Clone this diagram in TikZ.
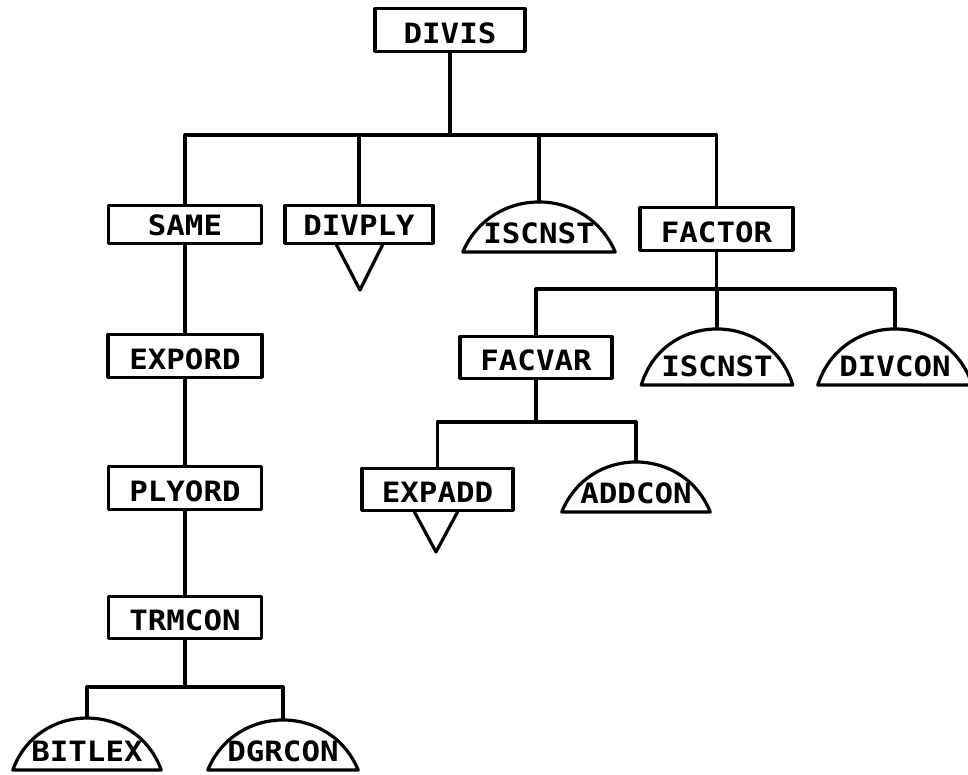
\documentclass[tikz,border=0pt]{standalone}
\usepackage{fontspec}
\newfontfamily\plotfont{DejaVu Sans Mono Bold}[FakeStretch=1.1]
\usetikzlibrary{calc}
\tikzset{
  ln/.style={line width=3.2pt, line cap=round, line join=round},
  nd/.style 2 args={minimum width=#1, text height=#2, text depth=8pt, inner sep=0pt,
     anchor=south, font=\fontsize{28}{30}\selectfont\plotfont},
  box/.style 2 args={nd={#1}{#2}, draw, ln},
  dome/.style 2 args={nd={#1}{#2}}
}
\newcommand\domeline[3]{\draw[ln] (#1.south west) .. controls ($(#1.south west)+(#2,#3)$) and ($(#1.south east)+(-#2,#3)$) .. (#1.south east) -- cycle;}
\begin{document}
\begin{tikzpicture}[x=1pt,y=1pt]
\path[use as bounding box, fill=white] (0,0) rectangle (968,775);
% boxes
\node[box={150}{35pt}] (divis) at (450,722) {DIVIS};
\node[box={153}{30pt}] (same) at (185,530) {SAME};
\node[box={148}{30pt}] (divply) at (359,530) {DIVPLY};
\node[box={153}{35pt}] (factor) at (716.5,523) {FACTOR};
\node[box={154}{35pt}] (expord) at (185,396) {EXPORD};
\node[box={153}{35pt}] (plyord) at (185,264) {PLYORD};
\node[box={153}{34pt}] (trmcon) at (185,135) {TRMCON};
\node[box={152}{34pt}] (facvar) at (536,395) {FACVAR};
\node[box={151}{34pt}] (expadd) at (437.5,263) {EXPADD};
% domes
\node[dome={152}{42pt}] (isc1) at (539,523) {ISCNST};
\node[dome={151}{48pt}] (isc2) at (717,390) {ISCNST};
\node[dome={154}{48pt}] (divcon) at (895,390) {DIVCON};
\node[dome={148}{42pt}] (addcon) at (636,263) {ADDCON};
\node[dome={148}{44pt}] (bitlex) at (87,5) {BITLEX};
\node[dome={150}{42pt}] (dgrcon) at (283,5) {DGRCON};
\domeline{isc1}{28.7}{66.7}
\domeline{isc2}{22.6}{74.7}
\domeline{divcon}{24.2}{74.7}
\domeline{addcon}{26.8}{66.7}
\domeline{bitlex}{25}{69.3}
\domeline{dgrcon}{27.8}{66.7}
% triangles
\draw[ln] ($(divply.south)+(-22.5,0)$) -- ($(divply.south)+(1,-45)$) -- ($(divply.south)+(23.5,0)$);
\draw[ln] ($(expadd.south)+(-23,0)$) -- ($(expadd.south)+(-1.5,-40)$) -- ($(expadd.south)+(20,0)$);
% bars
\coordinate (y1) at (0,640);
\coordinate (y2) at (0,486);
\coordinate (y3) at (0,353);
\coordinate (y4) at (0,88);
\coordinate (b1) at (divis.south |- y1);
\coordinate (b2) at (factor.south |- y2);
\coordinate (b3) at (facvar.south |- y3);
\coordinate (b4) at (trmcon.south |- y4);
% connectors
\draw[ln] (divis.south) -- (b1);
\draw[ln] (same.north) |- (b1) -| (factor.north);
\draw[ln] (divply.north) -- (divply.north |- b1);
\draw[ln] (isc1.north) -- (isc1.north |- b1);
\draw[ln] (same.south) -- (expord.north);
\draw[ln] (expord.south) -- (plyord.north);
\draw[ln] (plyord.south) -- (trmcon.north);
\draw[ln] (factor.south) -- (b2);
\draw[ln] (facvar.north) |- (b2) -| (divcon.north);
\draw[ln] (isc2.north) -- (isc2.north |- b2);
\draw[ln] (facvar.south) -- (b3);
\draw[ln] (expadd.north) |- (b3) -| (addcon.north);
\draw[ln] (trmcon.south) -- (b4);
\draw[ln] (bitlex.north) |- (b4) -| (dgrcon.north);
\end{tikzpicture}
\end{document}
